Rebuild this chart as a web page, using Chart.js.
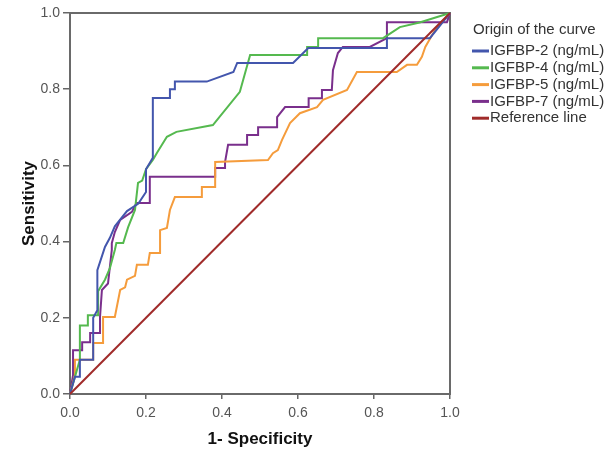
<!DOCTYPE html>
<html>
<head>
<meta charset="utf-8">
<script src="https://cdn.jsdelivr.net/npm/chart.js@4"></script>
<style>
  html, body { margin: 0; padding: 0; background: #fff; }
  #rocChart { display: block; }
</style>
</head>
<body>
<canvas id="rocChart" width="612" height="454"></canvas>
<script>
// ROC curves (1-specificity, sensitivity)

const xTicks = [0, 0.2, 0.4, 0.6, 0.8, 1.0];

const igfbp2X = [0, 0.013, 0.026, 0.026, 0.061, 0.061, 0.072, 0.072, 0.092, 0.105, 0.118, 0.15, 0.18, 0.2, 0.2, 0.218, 0.218, 0.263, 0.263, 0.276, 0.276, 0.36, 0.43, 0.44, 0.587, 0.627, 0.834, 0.834, 0.947, 1];
const igfbp2Y = [0, 0.045, 0.045, 0.09, 0.09, 0.2, 0.22, 0.325, 0.386, 0.41, 0.44, 0.48, 0.5, 0.53, 0.59, 0.62, 0.777, 0.777, 0.8, 0.8, 0.82, 0.82, 0.845, 0.869, 0.869, 0.908, 0.908, 0.934, 0.934, 1];

const igfbp4X = [0, 0.013, 0.026, 0.026, 0.047, 0.047, 0.074, 0.074, 0.092, 0.105, 0.118, 0.122, 0.14, 0.153, 0.171, 0.179, 0.19, 0.2, 0.218, 0.229, 0.255, 0.28, 0.376, 0.447, 0.474, 0.624, 0.624, 0.653, 0.653, 0.824, 0.868, 0.92, 1];
const igfbp4Y = [0, 0.045, 0.09, 0.18, 0.18, 0.207, 0.207, 0.27, 0.3, 0.33, 0.378, 0.396, 0.396, 0.438, 0.483, 0.554, 0.56, 0.59, 0.614, 0.633, 0.675, 0.688, 0.706, 0.793, 0.89, 0.89, 0.911, 0.911, 0.934, 0.934, 0.963, 0.975, 1];

const igfbp5X = [0, 0.013, 0.013, 0.061, 0.061, 0.087, 0.087, 0.118, 0.132, 0.145, 0.15, 0.171, 0.176, 0.205, 0.21, 0.237, 0.237, 0.255, 0.263, 0.276, 0.347, 0.347, 0.382, 0.382, 0.521, 0.534, 0.547, 0.558, 0.579, 0.605, 0.65, 0.666, 0.729, 0.755, 0.86, 0.887, 0.913, 0.926, 0.935, 0.953, 0.966, 1];
const igfbp5Y = [0, 0.05, 0.09, 0.09, 0.134, 0.134, 0.202, 0.202, 0.273, 0.28, 0.3, 0.31, 0.339, 0.339, 0.37, 0.37, 0.43, 0.436, 0.483, 0.517, 0.517, 0.543, 0.543, 0.609, 0.614, 0.632, 0.64, 0.667, 0.711, 0.737, 0.753, 0.772, 0.798, 0.845, 0.845, 0.864, 0.864, 0.885, 0.911, 0.942, 0.963, 1];

const igfbp7X = [0, 0.008, 0.008, 0.032, 0.032, 0.053, 0.053, 0.079, 0.079, 0.084, 0.1, 0.11, 0.11, 0.118, 0.132, 0.163, 0.175, 0.21, 0.21, 0.382, 0.382, 0.408, 0.408, 0.416, 0.466, 0.466, 0.495, 0.495, 0.545, 0.545, 0.566, 0.628, 0.628, 0.663, 0.663, 0.689, 0.692, 0.705, 0.718, 0.789, 0.834, 0.834, 0.992, 1];
const igfbp7Y = [0, 0.05, 0.115, 0.115, 0.136, 0.136, 0.16, 0.16, 0.202, 0.273, 0.29, 0.378, 0.396, 0.425, 0.457, 0.478, 0.501, 0.501, 0.57, 0.57, 0.593, 0.593, 0.609, 0.654, 0.654, 0.68, 0.68, 0.70, 0.70, 0.727, 0.753, 0.753, 0.776, 0.776, 0.798, 0.798, 0.85, 0.895, 0.911, 0.911, 0.934, 0.976, 0.976, 1];

const refX = [0, 1];
const refY = [0, 1];

const seriesNames = ['IGFBP-2 (ng/mL)', 'IGFBP-4 (ng/mL)', 'IGFBP-5 (ng/mL)', 'IGFBP-7 (ng/mL)', 'Reference line'];
const seriesColors = ['#4356ad', '#55b94f', '#f59c3c', '#7a2f8c', '#a02b2a'];

function toPoints(xs, ys) {
  return xs.map((x, i) => ({ x: x, y: ys[i] }));
}

function makeDataset(i, xs, ys) {
  return {
    label: seriesNames[i],
    data: toPoints(xs, ys),
    borderColor: seriesColors[i],
    backgroundColor: 'transparent',
    borderWidth: 2,
    showLine: true,
    fill: false,
    pointRadius: 0,
    tension: 0,
    clip: 3,
    order: i == 4 ? 0 : 1,
  };
}

const datasets = [
  makeDataset(0, igfbp2X, igfbp2Y),
  makeDataset(1, igfbp4X, igfbp4Y),
  makeDataset(2, igfbp5X, igfbp5Y),
  makeDataset(3, igfbp7X, igfbp7Y),
  makeDataset(4, refX, refY),
];

const fontName = '"Liberation Sans", Arial, sans-serif';

// frame around the plot area
const framePlugin = {
  id: 'frame',
  beforeDatasetsDraw(chart) {
    const { ctx, chartArea } = chart;
    ctx.save();
    ctx.strokeStyle = '#6a6a6a';
    ctx.lineWidth = 2;
    ctx.strokeRect(chartArea.left, chartArea.top, chartArea.right - chartArea.left, chartArea.bottom - chartArea.top);
    ctx.restore();
  }
};

// SPSS style legend on the right
const legendPlugin = {
  id: 'sideLegend',
  afterDraw(chart) {
    const ctx = chart.ctx;
    ctx.save();
    ctx.font = '15px ' + fontName;
    ctx.fillStyle = '#333';
    ctx.textBaseline = 'middle';
    ctx.fillText('Origin of the curve', 473, 30);
    chart.data.datasets.forEach((ds, i) => {
      const y = 51 + i * 16.8;
      ctx.strokeStyle = ds.borderColor;
      ctx.lineWidth = 3;
      ctx.beginPath();
      ctx.moveTo(472, y);
      ctx.lineTo(489, y);
      ctx.stroke();
      ctx.fillStyle = '#333';
      ctx.fillText(ds.label, 490, y);
    });
    ctx.restore();
  }
};

const ctx = document.getElementById('rocChart').getContext('2d');
const rocChart = new Chart(ctx, {
  type: 'scatter',
  data: { datasets: datasets },
  options: {
    responsive: false,
    animation: false,
    layout: { padding: { left: 0, top: 13, right: 162, bottom: 0 } },
    plugins: {
      legend: { display: false },
      tooltip: { enabled: false },
    },
    scales: {
      x: {
        type: 'linear',
        min: 0,
        max: 1,
        afterBuildTicks: (scale) => { scale.ticks = xTicks.map(v => ({ value: v })); },
        afterFit: (scale) => { scale.height = 60; },
        border: { display: false },
        grid: { drawOnChartArea: false, drawTicks: true, tickLength: 5, color: '#666', lineWidth: 1.5 },
        ticks: {
          padding: 6,
          color: '#555',
          font: { family: fontName, size: 14 },
          callback: (v) => Number(v).toFixed(1),
          maxRotation: 0,
        },
        title: {
          display: true,
          text: '1- Specificity',
          color: '#111',
          font: { family: fontName, size: 17, weight: 'bold' },
          padding: { top: 0, bottom: 4 },
        },
      },
      y: {
        type: 'linear',
        min: 0,
        max: 1,
        afterBuildTicks: (scale) => { scale.ticks = xTicks.map(v => ({ value: v })); },
        afterFit: (scale) => { scale.width = 70; },
        border: { display: false },
        grid: { drawOnChartArea: false, drawTicks: true, tickLength: 7, color: '#666', lineWidth: 1.5 },
        ticks: {
          padding: 3,
          color: '#555',
          font: { family: fontName, size: 14 },
          callback: (v) => Number(v).toFixed(1),
        },
        title: {
          display: true,
          text: 'Sensitivity',
          color: '#111',
          font: { family: fontName, size: 17, weight: 'bold' },
          padding: { top: 19, bottom: 0 },
        },
      },
    },
  },
  plugins: [framePlugin, legendPlugin],
});
</script>
</body>
</html>
